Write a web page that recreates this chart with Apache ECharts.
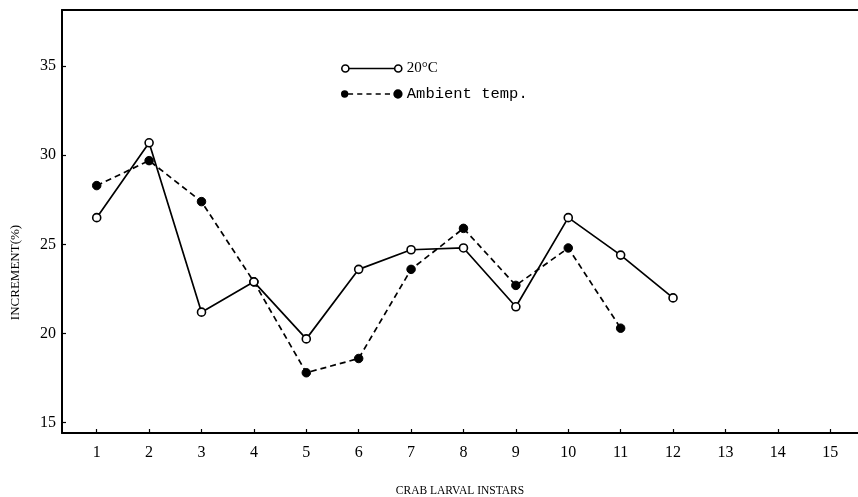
<!DOCTYPE html>
<html>
<head>
<meta charset="utf-8">
<script src="https://cdn.jsdelivr.net/npm/echarts@6/dist/echarts.min.js"></script>
<style>
html,body{margin:0;padding:0;background:#fff;}
#chart{width:858px;height:497px;}
</style>
</head>
<body>
<div id="chart"></div>
<script>
// Data
var instars = [1, 2, 3, 4, 5, 6, 7, 8, 9, 10, 11, 12, 13, 14, 15];
var seriesNames = ['20°C', 'Ambient temp.'];
var temp20 = [26.5, 30.7, 21.2, 22.9, 19.7, 23.6, 24.7, 24.8, 21.5, 26.5, 24.4, 22.0];
var ambient = [28.3, 29.7, 27.4, 22.9, 17.8, 18.6, 23.6, 25.9, 22.7, 24.8, 20.3];
var yTicks = [15, 20, 25, 30, 35];
var xName = 'CRAB LARVAL INSTARS';
var yName = 'INCREMENT(%)';

function pairs(vals) {
  return vals.map(function (v, i) { return [instars[i], v]; });
}

var serif = 'Liberation Serif';
var mono = 'Liberation Mono';

var iconOpen = 'path://M0.5 4A3.5 3.5 0 1 1 7.5 4A3.5 3.5 0 1 1 0.5 4ZM7.5 4L52.5 4M52.5 4A3.5 3.5 0 1 1 59.5 4A3.5 3.5 0 1 1 52.5 4Z';
var iconDash = 'path://M1 4A2.8 2.8 0 1 1 6.6 4A2.8 2.8 0 1 1 1 4ZM7 4L12 4M16 4L21 4M25 4L30 4M34 4L39 4M43 4L48 4M52 4A3.75 3.75 0 1 1 59.5 4A3.75 3.75 0 1 1 52 4Z';

var chart = echarts.init(document.getElementById('chart'), null, {renderer: 'canvas'});
chart.setOption({
  backgroundColor: '#fff',
  animation: false,
  grid: {left: 62, right: 0, top: 10, bottom: 64, containLabel: false, outerBoundsMode: 'none'},
  legend: {
    orient: 'vertical',
    left: 336,
    top: 56,
    itemWidth: 60,
    itemHeight: 8,
    itemGap: 10,
    selectedMode: false,
    textStyle: {color: '#000'},
    data: [
      {name: seriesNames[0], icon: iconOpen,
       itemStyle: {color: '#fff', borderColor: '#000', borderWidth: 1.6},
       textStyle: {fontFamily: serif, fontSize: 15, color: '#000'}},
      {name: seriesNames[1], icon: iconDash,
       itemStyle: {color: '#000', borderColor: '#000', borderWidth: 1.6},
       textStyle: {fontFamily: mono, fontSize: 15.5, color: '#000'}}
    ]
  },
  xAxis: [{
    type: 'value',
    min: 0.3375,
    max: 15.53,
    name: xName,
    nameLocation: 'middle',
    nameGap: 52,
    nameTextStyle: {fontFamily: serif, fontSize: 11.5, color: '#000'},
    axisLine: {lineStyle: {color: '#000', width: 2}},
    axisTick: {show: true, inside: true, length: 4, customValues: instars, lineStyle: {color: '#000', width: 1.2}},
    axisLabel: {customValues: instars, margin: 12, fontFamily: serif, fontSize: 16, color: '#000'},
    splitLine: {show: false}
  }, {
    type: 'value',
    position: 'top',
    min: 0.3375,
    max: 15.53,
    axisLine: {show: true, lineStyle: {color: '#000', width: 2}},
    axisTick: {show: false},
    axisLabel: {show: false},
    splitLine: {show: false}
  }],
  yAxis: {
    type: 'value',
    min: 14.42,
    max: 38.15,
    name: yName,
    nameLocation: 'middle',
    nameGap: 40,
    nameTextStyle: {fontFamily: serif, fontSize: 13, color: '#000', padding: [0, 102, 0, 0]},
    axisLine: {show: true, lineStyle: {color: '#000', width: 2}},
    axisTick: {show: true, inside: true, length: 4, customValues: yTicks, lineStyle: {color: '#000', width: 1.2}},
    axisLabel: {customValues: yTicks, margin: 6, fontFamily: serif, fontSize: 16, color: '#000'},
    splitLine: {show: false}
  },
  series: [{
    name: seriesNames[0],
    type: 'line',
    data: pairs(temp20),
    symbol: 'circle',
    symbolSize: 8,
    lineStyle: {color: '#000', width: 1.7, type: 'solid'},
    itemStyle: {color: '#fff', borderColor: '#000', borderWidth: 1.6},
    z: 3
  }, {
    name: seriesNames[1],
    type: 'line',
    data: pairs(ambient),
    symbol: 'circle',
    symbolSize: 8.5,
    lineStyle: {color: '#000', width: 1.7, type: [6, 4]},
    itemStyle: {color: '#000', borderColor: '#000', borderWidth: 1},
    z: 2
  }]
});
</script>
</body>
</html>
